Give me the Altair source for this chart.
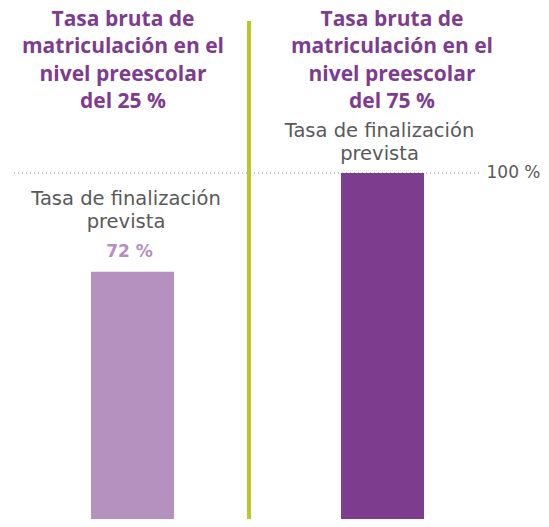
import altair as alt
import pandas as pd

groups = ["25", "75"]
completion = [72, 100]
bar_colors = ["#B591C0", "#7E3C8F"]
headings = [
    "Tasa bruta de\nmatriculación en el\nnivel preescolar\ndel 25 %",
    "Tasa bruta de\nmatriculación en el\nnivel preescolar\ndel 75 %",
]
subtitle = "Tasa de finalización\nprevista"
value_label = "72 %"
ref_value = [100]
ref_label = "100 %"

PURPLE = "#7E3C8F"
LIGHT = "#B48FC0"
GRAY = "#595959"
GREEN = "#BDC52B"
HFONT = "Open Sans"
SFONT = "DejaVu Sans"

df = pd.DataFrame({"group": groups, "rate": completion, "color": bar_colors,
                   "heading": headings})
ref_df = pd.DataFrame({"rate": ref_value, "label": [ref_label], "group": ["75"]})

xs = alt.X("group:N", axis=None,
           scale=alt.Scale(type="point", domain=groups, range=[124.5, 374.5],
                           padding=0))
# visible plot spans 1.98 .. 146.74 (the zero baseline sits just below the view)
ys = alt.Y("rate:Q", axis=None, scale=alt.Scale(domain=[1.98, 146.74], nice=False,
                                                 zero=False))

base = alt.Chart(df)

bars = base.mark_bar(size=83).encode(
    x=xs, y=ys, y2=alt.datum(0), color=alt.Color("color:N", scale=None)
)

dotted = alt.Chart(ref_df).mark_rule(
    color="#8a8a8a", strokeWidth=1, strokeDash=[1, 3]
).encode(x=alt.value(6), x2=alt.value(472), y=ys)

ref_text = alt.Chart(ref_df).mark_text(
    font=SFONT, fontSize=17, color=GRAY, align="left", baseline="middle", dx=104
).encode(x=xs, y=ys, text="label:N")

divider = alt.Chart(df).mark_rule(color=GREEN, strokeWidth=4).encode(
    x=alt.value(241), y=alt.value(13), y2=alt.value(511)
)

def heading_layer(g, dx):
    return base.transform_filter(alt.datum.group == g).mark_text(
        font=HFONT, fontSize=21, fontWeight="bold", color=PURPLE,
        align="center", baseline="alphabetic", lineBreak="\n", lineHeight=27.3,
        dx=dx
    ).encode(x=xs, y=alt.value(18), text="heading:N")

def subtitle_layer(g, dx, dy):
    return base.transform_filter(alt.datum.group == g).mark_text(
        font=SFONT, fontSize=19.5, color=GRAY, align="center", baseline="alphabetic",
        lineBreak="\n", lineHeight=23.5, dx=dx, dy=dy, text=subtitle
    ).encode(x=xs, y=ys)

value_text = base.transform_filter(alt.datum.group == "25").mark_text(
    font=SFONT, fontSize=17, fontWeight="bold", color=LIGHT, align="center",
    baseline="alphabetic", dx=-3, dy=-15, text=value_label
).encode(x=xs, y=ys)

chart = alt.layer(
    dotted, bars, divider, ref_text,
    heading_layer("25", -9.5), heading_layer("75", 9.5),
    subtitle_layer("25", -6.5, -67), subtitle_layer("75", -3, -36),
    value_text,
).properties(
    width=533, height=511, padding=0,
    autosize=alt.AutoSizeParams(type="none"),
    background="white",
).configure_view(stroke=None)

chart.save("out.html", embed_options={"renderer": "svg", "actions": False})
